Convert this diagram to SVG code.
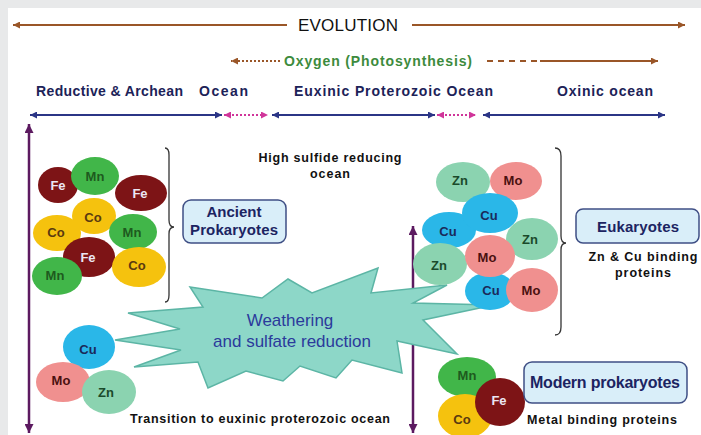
<svg xmlns="http://www.w3.org/2000/svg" width="701" height="435" viewBox="0 0 701 435">
<style>
text{font-family:"Liberation Sans",Arial,sans-serif}
.fe{fill:#7d1416}.mn{fill:#41b649}.co{fill:#f5c20e}.cu{fill:#2ab7e8}.mo{fill:#f0908f}.zn{fill:#8bd3b0}
.lbl{font-size:13px;font-weight:bold;text-anchor:middle}
.tfe{fill:#ece6f4}.tmn{fill:#1e5a1e}.tco{fill:#5a3a10}.tcu{fill:#1a2a5a}.tmo{fill:#4a1010}.tzn{fill:#1a4a2a}
.hdr{font-size:14px;font-weight:bold;fill:#1c2258}
.blk{font-size:12.5px;font-weight:bold;fill:#111}
.box{fill:#d9eef9;stroke:#3f4f85;stroke-width:1.5}
.boxt{font-weight:bold;fill:#1c2462;text-anchor:middle}
.navy{stroke:#2b3586;stroke-width:2;fill:none}
.pink{stroke:#d0359a;stroke-width:2;fill:none;stroke-dasharray:2 2}
.brown{stroke:#9a5628;stroke-width:2;fill:none}
.purple{stroke:#5c1a60;stroke-width:2.5;fill:none}
.brace{stroke:#333;stroke-width:1.3;fill:none}
</style>
<defs>
<marker id="mN" viewBox="0 0 10 10" refX="10" refY="5" markerWidth="8" markerHeight="7" markerUnits="userSpaceOnUse" orient="auto-start-reverse"><path d="M0,0L10,5L0,10z" fill="#2b3586"/></marker>
<marker id="mP" viewBox="0 0 10 10" refX="10" refY="5" markerWidth="8" markerHeight="7" markerUnits="userSpaceOnUse" orient="auto-start-reverse"><path d="M0,0L10,5L0,10z" fill="#d0359a"/></marker>
<marker id="mB" viewBox="0 0 10 10" refX="10" refY="5" markerWidth="10" markerHeight="7" markerUnits="userSpaceOnUse" orient="auto-start-reverse"><path d="M0,0L10,5L0,10z" fill="#9a5628"/></marker>
<marker id="mV" viewBox="0 0 10 10" refX="10" refY="5" markerWidth="10" markerHeight="9" markerUnits="userSpaceOnUse" orient="auto-start-reverse"><path d="M0,0L10,5L0,10z" fill="#5c1a60"/></marker>
</defs>
<rect width="701" height="435" fill="#e8e9ea"/>
<rect x="8" y="8" width="693" height="427" fill="#ffffff"/>

<g id="connectors">
<line class="brown" x1="287" y1="25" x2="13" y2="25" marker-end="url(#mB)"/>
<line class="brown" x1="412" y1="25" x2="685" y2="25" marker-end="url(#mB)"/>
<line class="brown" x1="280" y1="61" x2="231" y2="61" stroke-dasharray="2 2" marker-end="url(#mB)"/>
<line class="brown" x1="487" y1="61" x2="540" y2="61" stroke-dasharray="6 5"/>
<line class="brown" x1="540" y1="61" x2="658" y2="61" marker-end="url(#mB)"/>
<line class="navy" x1="30" y1="115" x2="222" y2="115" marker-start="url(#mN)" marker-end="url(#mN)"/>
<line class="pink" x1="224" y1="115" x2="268" y2="115" marker-start="url(#mP)" marker-end="url(#mP)"/>
<line class="navy" x1="272" y1="115" x2="435" y2="115" marker-start="url(#mN)" marker-end="url(#mN)"/>
<line class="pink" x1="437" y1="115" x2="476" y2="115" marker-start="url(#mP)" marker-end="url(#mP)"/>
<line class="navy" x1="483" y1="115" x2="665" y2="115" marker-start="url(#mN)" marker-end="url(#mN)"/>
<line class="purple" x1="29" y1="124" x2="29" y2="433" marker-start="url(#mV)" marker-end="url(#mV)"/>
<line class="purple" x1="413" y1="226" x2="413" y2="433" marker-start="url(#mV)" marker-end="url(#mV)"/>
<path class="brace" d="M165,148 Q169,148 169,155 L169,220 Q169,227 174,227 Q169,227 169,234 L169,295 Q169,302 165,302"/>
<path class="brace" d="M555,148 Q561,148 561,156 L561,236 Q561,243 566,243 Q561,243 561,250 L561,327 Q561,335 555,335"/>
</g>

<g id="titles">
<text x="348" y="31" font-size="17" text-anchor="middle" fill="#111" textLength="100" lengthAdjust="spacing">EVOLUTION</text>
<text x="284" y="66" font-size="14" font-weight="bold" fill="#3d8b3d" textLength="188" lengthAdjust="spacing">Oxygen (Photosynthesis)</text>
<text class="hdr" x="36" y="96" textLength="147" lengthAdjust="spacing">Reductive &amp; Archean</text>
<text class="hdr" x="199" y="96" textLength="49" lengthAdjust="spacing">Ocean</text>
<text class="hdr" x="294" y="96" textLength="199" lengthAdjust="spacing">Euxinic Proterozoic Ocean</text>
<text class="hdr" x="557" y="96" textLength="96" lengthAdjust="spacing">Oxinic ocean</text>
<text class="blk" x="330" y="162" text-anchor="middle" textLength="143" lengthAdjust="spacing">High sulfide reducing</text>
<text class="blk" x="330" y="178" text-anchor="middle" textLength="40" lengthAdjust="spacing">ocean</text>
</g>

<g id="weathering">
<polygon points="115,340 180,329 128,313 203,307 190,287 262,298 288,279 312,293 378,268 371,293 447,285 413,303 494,305 423,320 457,354 397,341 402,373 352,360 336,378 300,366 283,381 246,371 208,388 198,362 134,367 181,350" fill="#8dd7c8" stroke="#5cb5a5" stroke-width="1.5" stroke-linejoin="miter"/>
<text x="290" y="326" font-size="17" text-anchor="middle" fill="#2b3a9c">Weathering</text>
<text x="292" y="347" font-size="17" text-anchor="middle" fill="#2b3a9c">and sulfate reduction</text>
</g>

<g id="ancient-metals">
<ellipse class="fe" cx="58" cy="185" rx="20" ry="18"/>
<ellipse class="mn" cx="95" cy="176" rx="24" ry="19"/>
<ellipse class="fe" cx="141" cy="193" rx="26" ry="18"/>
<ellipse class="co" cx="94" cy="216" rx="22" ry="18"/>
<ellipse class="co" cx="57" cy="233" rx="24" ry="18"/>
<ellipse class="mn" cx="133" cy="232" rx="24" ry="18"/>
<ellipse class="fe" cx="89" cy="257" rx="26" ry="20"/>
<ellipse class="mn" cx="57" cy="276" rx="25" ry="19"/>
<ellipse class="co" cx="139" cy="267" rx="27" ry="20"/>
<text class="lbl tfe" x="58" y="190">Fe</text>
<text class="lbl tmn" x="95" y="181">Mn</text>
<text class="lbl tfe" x="140" y="198">Fe</text>
<text class="lbl tco" x="93" y="222">Co</text>
<text class="lbl tco" x="56" y="237">Co</text>
<text class="lbl tmn" x="132" y="237">Mn</text>
<text class="lbl tfe" x="88" y="262">Fe</text>
<text class="lbl tmn" x="55" y="280">Mn</text>
<text class="lbl tco" x="137" y="270">Co</text>
</g>

<g id="ancient-prokaryotes">
<rect class="box" x="183" y="200" width="103" height="43" rx="8"/>
<text class="boxt" x="234" y="217" font-size="15">Ancient</text>
<text class="boxt" x="234" y="235" font-size="15" textLength="88" lengthAdjust="spacing">Prokaryotes</text>
</g>

<g id="eukaryote-metals">
<ellipse class="zn" cx="463" cy="182" rx="27" ry="20"/>
<ellipse class="mo" cx="516" cy="181" rx="26" ry="19"/>
<ellipse class="cu" cx="449" cy="230" rx="27" ry="18"/>
<ellipse class="cu" cx="490" cy="213" rx="28" ry="20"/>
<ellipse class="zn" cx="532" cy="239" rx="26" ry="21"/>
<ellipse class="zn" cx="440" cy="264" rx="27" ry="21"/>
<ellipse class="cu" cx="490" cy="291" rx="25" ry="19"/>
<ellipse class="mo" cx="490" cy="256" rx="25" ry="21"/>
<ellipse class="mo" cx="532" cy="290" rx="26" ry="22"/>
<text class="lbl tzn" x="460" y="185">Zn</text>
<text class="lbl tmo" x="513" y="185">Mo</text>
<text class="lbl tcu" x="489" y="220">Cu</text>
<text class="lbl tcu" x="448" y="236">Cu</text>
<text class="lbl tzn" x="530" y="244">Zn</text>
<text class="lbl tzn" x="439" y="270">Zn</text>
<text class="lbl tmo" x="487" y="262">Mo</text>
<text class="lbl tcu" x="491" y="295">Cu</text>
<text class="lbl tmo" x="531" y="295">Mo</text>
</g>

<g id="eukaryotes">
<rect class="box" x="576" y="209" width="123" height="34" rx="7"/>
<text class="boxt" x="638" y="232" font-size="15" textLength="82" lengthAdjust="spacing">Eukaryotes</text>
<text class="blk" x="643" y="261" text-anchor="middle" textLength="109" lengthAdjust="spacing">Zn &amp; Cu binding</text>
<text class="blk" x="643" y="277" text-anchor="middle" textLength="56" lengthAdjust="spacing">proteins</text>
</g>

<g id="transition-metals">
<ellipse class="cu" cx="89" cy="347" rx="26" ry="22"/>
<ellipse class="mo" cx="63" cy="382" rx="27" ry="20"/>
<ellipse class="zn" cx="109" cy="392" rx="27" ry="22"/>
<text class="lbl tcu" x="88" y="354">Cu</text>
<text class="lbl tmo" x="61" y="385">Mo</text>
<text class="lbl tzn" x="106" y="397">Zn</text>
</g>

<g id="transition">
<text class="blk" x="130" y="423" textLength="260" lengthAdjust="spacing">Transition to euxinic proterozoic ocean</text>
</g>

<g id="modern-metals">
<ellipse class="mn" cx="467" cy="377" rx="29" ry="20"/>
<ellipse class="co" cx="465" cy="416" rx="27" ry="22"/>
<ellipse class="fe" cx="500" cy="402" rx="25" ry="24"/>
<text class="lbl tmn" x="467" y="380">Mn</text>
<text class="lbl tfe" x="499" y="405">Fe</text>
<text class="lbl tco" x="462" y="424">Co</text>
</g>

<g id="modern-prokaryotes">
<rect class="box" x="524" y="362" width="163" height="41" rx="8"/>
<text class="boxt" x="605" y="388" font-size="16" textLength="150" lengthAdjust="spacing">Modern prokaryotes</text>
<text class="blk" x="527" y="424" textLength="150" lengthAdjust="spacing">Metal binding proteins</text>
</g>
</svg>
